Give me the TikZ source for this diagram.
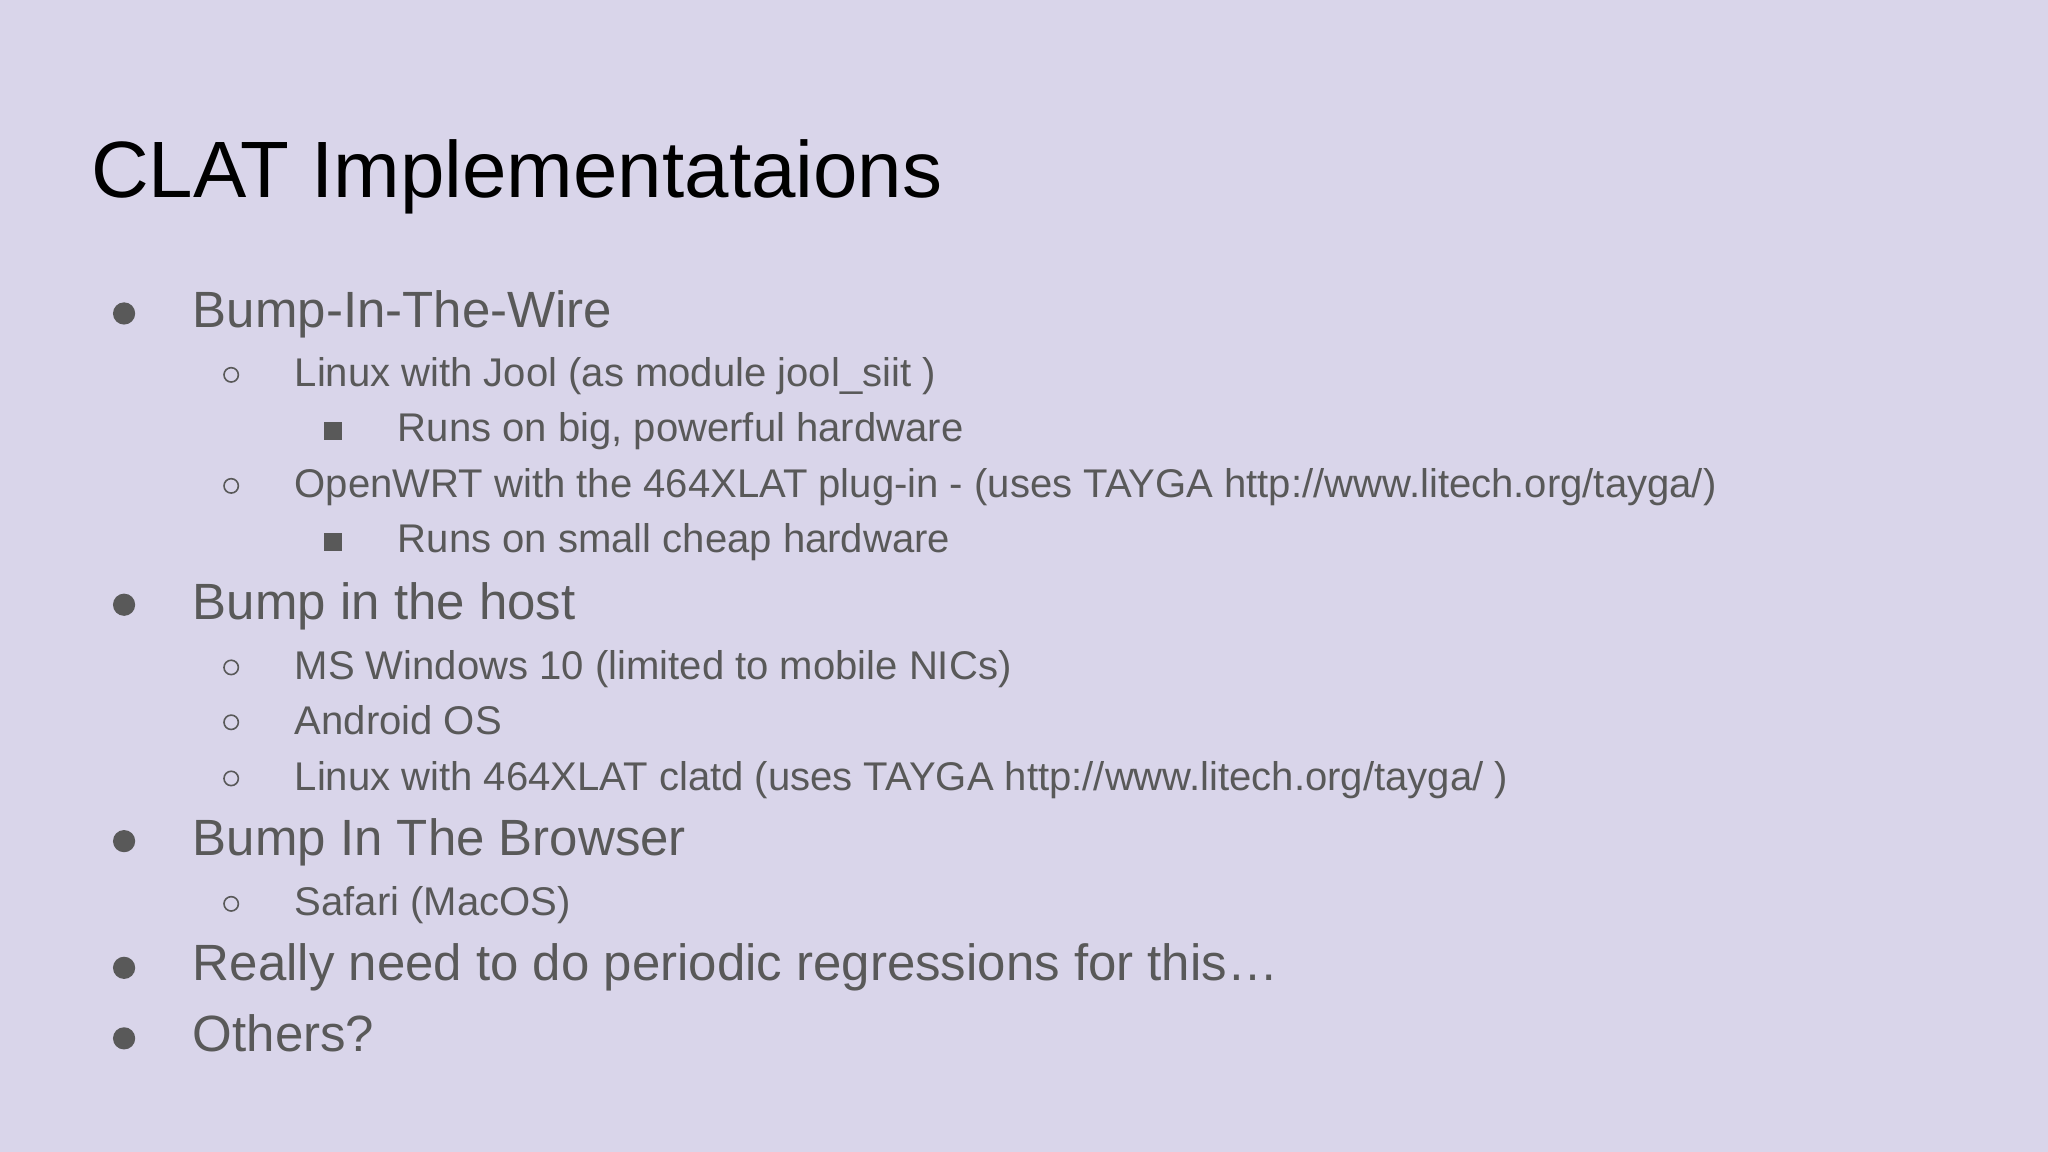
\documentclass[tikz,border=0pt]{standalone}
\usepackage{fontspec}
\setmainfont{Liberation Sans}
\definecolor{bg}{HTML}{D9D5EA}
\definecolor{tx}{HTML}{595959}
\begin{document}
\begin{tikzpicture}[x=0.01cm,y=-0.01cm,
  t1/.style={anchor=base west,inner sep=0,text=tx,font=\fontsize{11.1pt}{13pt}\selectfont},
  t2/.style={anchor=base west,inner sep=0,text=tx,font=\fontsize{8.72pt}{10pt}\selectfont},
  b1/.style={circle,fill=tx,inner sep=0,minimum size=0.17cm},
  b2/.style={circle,draw=tx,line width=0.35pt,inner sep=0,minimum size=0.11cm},
  b3/.style={rectangle,fill=tx,inner sep=0,minimum size=0.14cm}]
\fill[bg] (0,0) rectangle (1568,882);
\useasboundingbox (0,0) rectangle (1568,882);
\node[anchor=base west,inner sep=0,font=\fontsize{17.4pt}{21pt}\selectfont] (title) at (69,151) {CLAT Implementataions};
\node[b1] (p1) at (95,240) {}; \node[t1] (l1) at (147,251) {Bump-In-The-Wire};
\node[b2] (p2) at (177,287) {}; \node[t2] (l2) at (225,296) {Linux with Jool (as module jool\_siit )};
\node[b3] (p3) at (255,330) {}; \node[t2] (l3) at (304,338) {Runs on big, powerful hardware};
\node[b2] (p4) at (177,372) {}; \node[t2] (l4) at (225,381) {OpenWRT with the 464XLAT plug-in - (uses TAYGA http://www.litech.org/tayga/)};
\node[b3] (p5) at (255,415) {}; \node[t2] (l5) at (304,423) {Runs on small cheap hardware};
\node[b1] (p6) at (95,463) {}; \node[t1] (l6) at (147,474) {Bump in the host};
\node[b2] (p7) at (177,511) {}; \node[t2] (l7) at (225,520) {MS Windows 10 (limited to mobile NICs)};
\node[b2] (p8) at (177,553) {}; \node[t2] (l8) at (225,562) {Android OS};
\node[b2] (p9) at (177,596) {}; \node[t2] (l9) at (225,605) {Linux with 464XLAT clatd (uses TAYGA http://www.litech.org/tayga/ )};
\node[b1] (p10) at (95,644) {}; \node[t1] (l10) at (147,655) {Bump In The Browser};
\node[b2] (p11) at (177,692) {}; \node[t2] (l11) at (225,701) {Safari (MacOS)};
\node[b1] (p12) at (95,741) {}; \node[t1] (l12) at (147,751) {Really need to do periodic regressions for this…};
\node[b1] (p13) at (95,795) {}; \node[t1] (l13) at (147,805) {Others?};
\end{tikzpicture}
\end{document}
